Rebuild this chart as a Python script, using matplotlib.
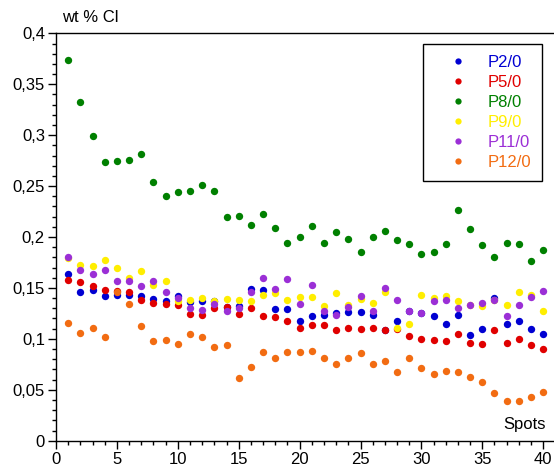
import matplotlib
matplotlib.use('Agg')
import matplotlib.pyplot as plt
from matplotlib.ticker import MultipleLocator, FuncFormatter

plt.rcParams['font.family'] = ['Liberation Sans', 'DejaVu Sans']
plt.rcParams['font.size'] = 12

# spot numbers along the profile
spots = list(range(1, 41))

# wt % Cl per sample
p2 = [0.164, 0.146, 0.148, 0.142, 0.1435, 0.143, 0.142, 0.139, 0.137, 0.142,
      0.136, 0.137, 0.137, 0.131, 0.132, 0.149, 0.148, 0.129, 0.129, 0.118,
      0.122, 0.123, 0.125, 0.126, 0.126, 0.123, 0.109, 0.118, 0.127, 0.125,
      0.122, 0.115, 0.123, 0.104, 0.110, 0.140, 0.115, 0.118, 0.110, 0.105]
p5 = [0.158, 0.156, 0.152, 0.148, 0.147, 0.146, 0.138, 0.135, 0.134, 0.133,
      0.1245, 0.123, 0.130, 0.131, 0.1245, 0.130, 0.122, 0.121, 0.118, 0.111,
      0.114, 0.114, 0.1085, 0.111, 0.110, 0.111, 0.1085, 0.1095, 0.103, 0.100,
      0.099, 0.098, 0.1045, 0.096, 0.095, 0.1085, 0.096, 0.100, 0.094, 0.090]
p8 = [0.374, 0.333, 0.299, 0.274, 0.275, 0.276, 0.282, 0.254, 0.240, 0.244,
      0.245, 0.251, 0.245, 0.220, 0.221, 0.212, 0.223, 0.209, 0.194, 0.200,
      0.211, 0.194, 0.205, 0.198, 0.185, 0.200, 0.206, 0.197, 0.193, 0.1835,
      0.185, 0.193, 0.227, 0.208, 0.192, 0.180, 0.194, 0.193, 0.176, 0.187]
p9 = [0.179, 0.173, 0.172, 0.177, 0.170, 0.160, 0.1665, 0.153, 0.157, 0.137,
      0.138, 0.140, 0.137, 0.139, 0.138, 0.137, 0.1435, 0.145, 0.138, 0.141,
      0.141, 0.132, 0.145, 0.133, 0.139, 0.135, 0.146, 0.111, 0.115, 0.1435,
      0.140, 0.1425, 0.137, 0.133, 0.132, 0.138, 0.133, 0.146, 0.143, 0.1275]
p11 = [0.180, 0.168, 0.164, 0.168, 0.157, 0.157, 0.1515, 0.157, 0.146, 0.140,
       0.130, 0.1285, 0.134, 0.1275, 0.130, 0.146, 0.160, 0.149, 0.159, 0.134,
       0.153, 0.1275, 0.1235, 0.131, 0.142, 0.1275, 0.150, 0.138, 0.1275, 0.125,
       0.137, 0.138, 0.130, 0.133, 0.1355, 0.138, 0.122, 0.133, 0.141, 0.147]
p12 = [0.1155, 0.1055, 0.111, 0.1015, 0.1465, 0.134, 0.113, 0.098, 0.099, 0.095,
       0.1045, 0.1015, 0.0925, 0.094, 0.062, 0.072, 0.087, 0.0815, 0.087, 0.087,
       0.088, 0.0815, 0.075, 0.0815, 0.086, 0.075, 0.078, 0.067, 0.0815, 0.071,
       0.0655, 0.068, 0.067, 0.063, 0.058, 0.047, 0.039, 0.039, 0.0425, 0.048]

labels = ['P2/0', 'P5/0', 'P8/0', 'P9/0', 'P11/0', 'P12/0']
colors = ['#0000d2', '#e00000', '#008000', '#ffee00', '#9b2fd6', '#f26c12']
series = [p2, p5, p8, p9, p11, p12]

fig = plt.figure(figsize=(5.54, 4.68), dpi=100)
ax = fig.add_axes([0.1011, 0.0583, 0.897, 0.8705])

for vals, lab, col in zip(series, labels, colors):
	ax.plot(spots, vals, 'o', ls='none', ms=5.3, mew=0, color=col, label=lab)

ax.set_xlim(0, 40.8)
ax.set_ylim(0, 0.4)
ax.xaxis.set_major_locator(MultipleLocator(5))
ax.xaxis.set_minor_locator(MultipleLocator(1))
ax.yaxis.set_major_locator(MultipleLocator(0.05))
ax.yaxis.set_minor_locator(MultipleLocator(0.01))
ax.yaxis.set_major_formatter(FuncFormatter(lambda v, p: ('%g' % round(v, 2)).replace('.', ',')))
ax.tick_params(which='major', direction='out', length=6, width=1, pad=2)
ax.tick_params(which='minor', direction='out', length=3, width=1)
ax.spines['right'].set_visible(False)
for s in ['left', 'bottom', 'top']:
	ax.spines[s].set_linewidth(1)

# axis titles sit inside / above the frame
fig.text(62 / 554, 1 - 18 / 468, 'wt % Cl', ha='left', va='center')
ax.text(0.985, 0.04, 'Spots', transform=ax.transAxes, ha='right', va='center')

leg = ax.legend(loc='upper right', bbox_to_anchor=(0.978, 0.973), borderaxespad=0,
	fancybox=False, edgecolor='black', framealpha=1, handlelength=3.0,
	handletextpad=0.25, borderpad=0.65, labelspacing=0.3, markerscale=0.85)
leg.get_frame().set_linewidth(1)
for txt, col in zip(leg.get_texts(), colors):
	txt.set_color(col)

plt.savefig('out.png', dpi=100)
